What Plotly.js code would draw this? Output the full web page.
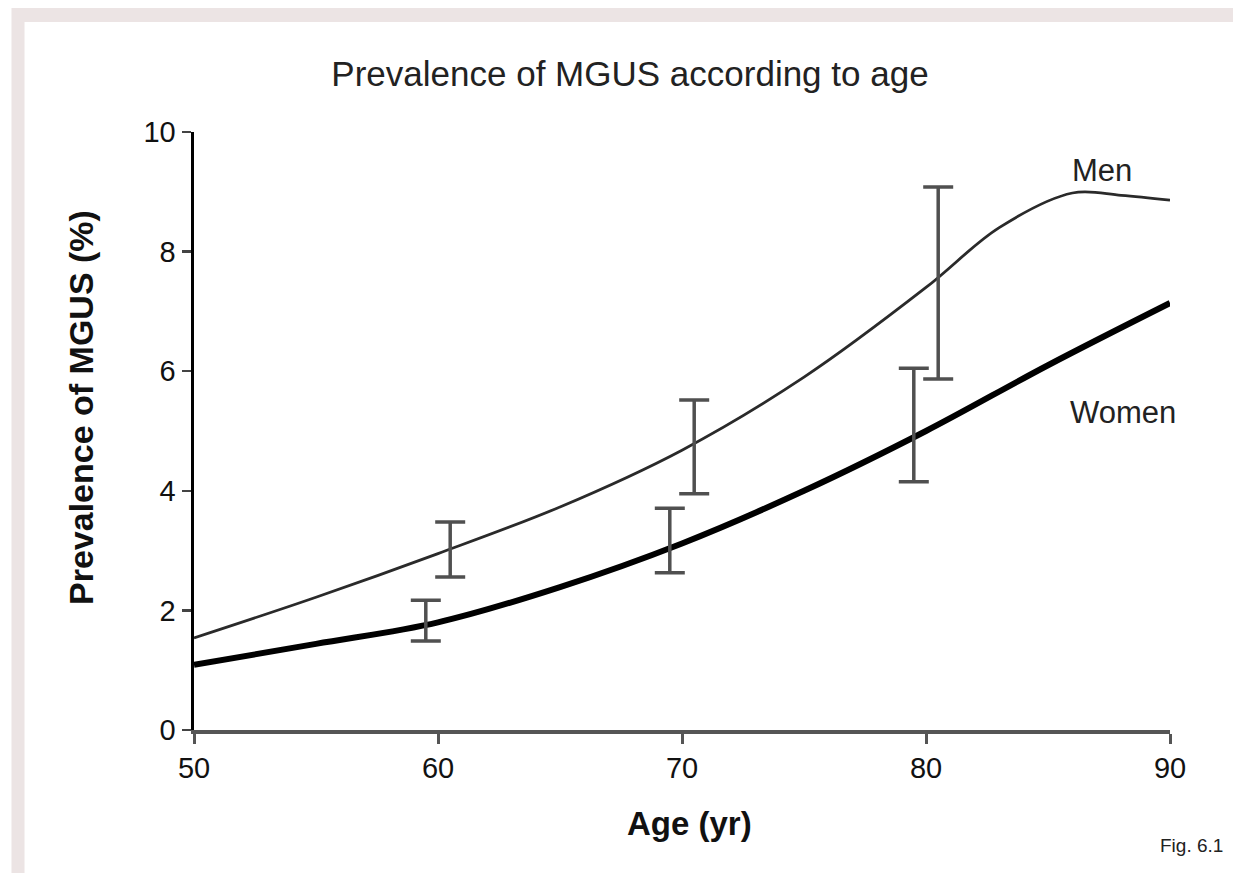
<!DOCTYPE html>
<html>
<head>
<meta charset="utf-8">
<script src="https://cdn.plot.ly/plotly-3.0.1.min.js"></script>
<style>html,body{margin:0;padding:0;background:#fff;}#chart{width:1233px;height:873px;}</style>
</head>
<body>
<div id="chart"></div>
<script>
// Fitted curves
const menAge = [50, 55, 60, 65, 70, 75, 80, 83, 86, 88, 90];
const menPrev = [1.54, 2.22, 2.95, 3.73, 4.68, 5.9, 7.4, 8.4, 8.98, 8.94, 8.86];
const womenAge = [50, 55, 60, 65, 70, 75, 80, 85, 90];
const womenPrev = [1.09, 1.44, 1.8, 2.39, 3.12, 4.0, 5.0, 6.1, 7.14];
// Observed points with error bars
const menObsAge = [60.5, 70.5, 80.5];
const menObsPrev = [3.02, 4.8, 7.56];
const menObsHigh = [3.48, 5.52, 9.08];
const menObsLow = [2.56, 3.95, 5.87];
const womenObsAge = [59.5, 69.5, 79.5];
const womenObsPrev = [1.77, 3.04, 4.9];
const womenObsHigh = [2.17, 3.71, 6.05];
const womenObsLow = [1.49, 2.63, 4.15];
const xTicks = [50, 60, 70, 80, 90];
const yTicks = [0, 2, 4, 6, 8, 10];

const errTrace = (x, y, hi, lo) => ({
  x: x, y: y, type: 'scatter', mode: 'markers',
  marker: {size: 1, color: 'rgba(0,0,0,0)'},
  error_y: {type: 'data', symmetric: false,
    array: hi.map((h, i) => h - y[i]),
    arrayminus: lo.map((l, i) => y[i] - l),
    color: '#505050', thickness: 3.5, width: 15},
  showlegend: false, hoverinfo: 'skip'
});

const data = [
  {x: menAge, y: menPrev, type: 'scatter', mode: 'lines', line: {color: '#2a2a2a', width: 2.8, shape: 'spline', smoothing: 1}, showlegend: false},
  {x: womenAge, y: womenPrev, type: 'scatter', mode: 'lines', line: {color: '#000', width: 6, shape: 'spline', smoothing: 1}, showlegend: false},
  errTrace(menObsAge, menObsPrev, menObsHigh, menObsLow),
  errTrace(womenObsAge, womenObsPrev, womenObsHigh, womenObsLow)
];

const sans = '"Liberation Sans", Arial, sans-serif';
// pixel -> paper helpers (plot area: x 194..1170, y 132..730)
const px = p => (p - 194) / 976;
const py = p => (730 - p) / 598;
const layout = {
  width: 1233, height: 873,
  paper_bgcolor: '#ffffff', plot_bgcolor: '#ffffff',
  margin: {l: 194, r: 63, t: 132, b: 143},
  title: {text: 'Prevalence of MGUS according to age', font: {family: sans, size: 35, color: '#222'}, x: 630 / 1233, xanchor: 'center', y: 1 - 74 / 873, yanchor: 'middle'},
  xaxis: {
    range: [50, 90], tickvals: xTicks, ticktext: xTicks.map(String),
    showgrid: false, zeroline: false, showline: true, linecolor: '#555', linewidth: 3.5,
    ticks: 'outside', ticklen: 10, tickwidth: 3, tickcolor: '#555',
    tickfont: {family: sans, size: 29, color: '#111'}
  },
  yaxis: {
    range: [0, 10], tickvals: yTicks, ticktext: yTicks.map(String),
    showgrid: false, zeroline: false, showline: true, linecolor: '#000', linewidth: 3.5,
    ticks: 'outside', ticklen: 9, tickwidth: 2.5, tickcolor: '#444',
    tickfont: {family: sans, size: 29, color: '#111'}
  },
  annotations: [
    {x: 1102, y: 171, text: 'Men', size: 31},
    {x: 1123, y: 412, text: 'Women', size: 31},
    {x: 1191, y: 845, text: 'Fig. 6.1', size: 19}
  ].map(a => ({x: px(a.x), y: py(a.y), xref: 'paper', yref: 'paper', xanchor: 'center', yanchor: 'middle', text: a.text, showarrow: false, font: {family: sans, size: a.size, color: '#222'}}))
  .concat([
    {x: px(689), y: py(823), xref: 'paper', yref: 'paper', xanchor: 'center', yanchor: 'middle', text: '<b>Age (yr)</b>', showarrow: false, font: {family: sans, size: 33, color: '#111'}},
    {x: px(81), y: py(408), xref: 'paper', yref: 'paper', xanchor: 'center', yanchor: 'middle', textangle: -90, text: '<b>Prevalence of MGUS (%)</b>', showarrow: false, font: {family: sans, size: 34, color: '#111'}}
  ]),
  shapes: [
    {type: 'line', xref: 'paper', yref: 'paper', x0: px(12), x1: px(1240), y0: py(15), y1: py(15), line: {color: '#ece4e4', width: 14}, layer: 'below'},
    {type: 'line', xref: 'paper', yref: 'paper', x0: px(18), x1: px(18), y0: py(8), y1: py(880), line: {color: '#ece4e4', width: 13}, layer: 'below'}
  ]
};
Plotly.newPlot('chart', data, layout, {displayModeBar: false, staticPlot: true});
</script>
</body>
</html>
